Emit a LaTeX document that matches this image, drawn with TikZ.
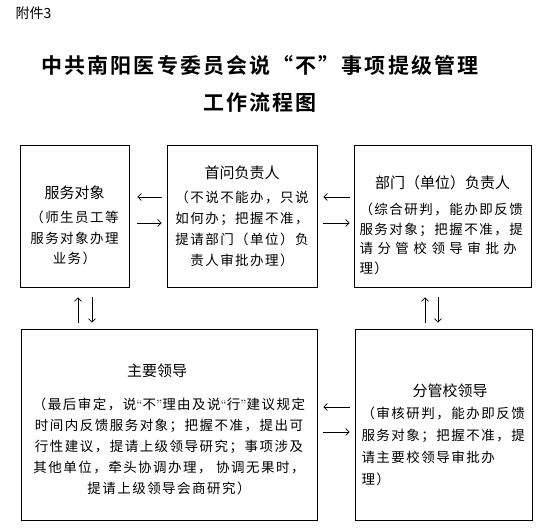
\documentclass[tikz,border=0pt]{standalone}
\usepackage{fontspec}
\usetikzlibrary{arrows.meta}
\newfontfamily\cjk{Noto Sans CJK SC}
\newfontfamily\cjkbody{Noto Sans CJK SC}[LetterSpace=11]
\newfontfamily\cjktitle{Noto Sans CJK SC Bold}[LetterSpace=10]
\newcommand\hd[1]{{\fontsize{15}{20}\selectfont\cjk #1}}

\begin{document}
\begin{tikzpicture}[x=1pt,y=1pt,
	box/.style={draw,line width=0.7pt,inner sep=0pt},
	arr/.style={-{Straight Barb[length=3.5pt,width=7pt]},line width=0.7pt}]
	\useasboundingbox (0,0) rectangle (554,529);
	\node[anchor=west,font=\fontsize{14}{14}\selectfont\cjk] (fj) at (12,516) {附件3};
	\node[align=center,font=\fontsize{21}{37}\selectfont\cjktitle] (title) at (260,445.5) {中共南阳医专委员会说“不”事项提级管理\\工作流程图};
	\node[box,minimum width=109pt,minimum height=142pt,align=center,font=\fontsize{13.5}{20.5}\selectfont\cjkbody] (fw) at (74.5,313) {\rule{0pt}{32pt}\hd{服务对象}\\[3.5pt] （师生员工等\\服务对象办理\\业务）};
	\node[box,minimum width=150pt,minimum height=142pt,align=center,font=\fontsize{13.5}{21}\selectfont\cjkbody] (sw) at (242,313) {\hd{首问负责人}\\[3pt] （不说不能办，只说\\如何办；把握不准，\\提请部门（单位）负\\责人审批办理）};
	\node[box,minimum width=177pt,minimum height=142pt,text width=166pt,align=left,font=\fontsize{13.5}{19.5}\selectfont\cjkbody] (bm) at (442.5,313) {\rule{0pt}{31pt}\makebox[\linewidth]{\hd{部门（单位）负责人}}\\[6.5pt]（综合研判，能办即反馈\\服务对象；把握不准，提\\\makebox[\linewidth][s]{请 分 管 校 领 导 审 批 办}\\理）};
	\node[box,minimum width=296pt,minimum height=191pt,align=center,font=\fontsize{13.5}{21}\selectfont\cjkbody] (zy) at (169,104.5) {\rule{0pt}{22pt}\hd{主要领导}\kern24pt\\[12pt] （最后审定，说{\normalfont“}不{\normalfont”}理由及说{\normalfont“}行{\normalfont”}建议规定\\时间内反馈服务对象；把握不准，提出可\\行性建议，提请上级领导研究；事项涉及\\其他单位，牵头协调办理， 协调无果时，\\提请上级领导会商研究）};
	\node[box,minimum width=177pt,minimum height=191pt,text width=164pt,align=left,font=\fontsize{13.5}{22}\selectfont\cjkbody] (fg) at (443.5,104.5) {\rule{0pt}{33pt}\makebox[\linewidth]{\kern13pt\hd{分管校领导}}\\（审核研判，能办即反馈\\服务对象；把握不准，提\\请主要校领导审批办\\理）};
	\draw[arr,shorten <=5pt,shorten >=8pt] ([yshift=19pt]sw.west) -- ([yshift=19pt]fw.east);
	\draw[arr,shorten <=8pt,shorten >=5pt] ([yshift=-7pt]fw.east) -- ([yshift=-7pt]sw.west);
	\draw[arr,shorten <=4pt,shorten >=6pt] ([yshift=19pt]bm.west) -- ([yshift=19pt]sw.east);
	\draw[arr,shorten <=6pt,shorten >=4pt] ([yshift=-7pt]sw.east) -- ([yshift=-7pt]bm.west);
	\draw[arr,shorten <=5pt,shorten >=6pt] ([yshift=17.5pt]fg.west) -- ([yshift=17.5pt]zy.east);
	\draw[arr,shorten <=6pt,shorten >=5pt] ([yshift=-7.5pt]zy.east) -- ([yshift=-7.5pt]fg.west);
	\coordinate (u1) at ([xshift=3.5pt]fw.south);
	\coordinate (d1) at ([xshift=17.5pt]fw.south);
	\coordinate (u2) at ([xshift=-17.5pt]bm.south);
	\coordinate (d2) at ([xshift=-4.5pt]bm.south);
	\draw[arr,shorten <=6pt,shorten >=10pt] (u1 |- zy.north) -- (u1);
	\draw[arr,shorten <=10pt,shorten >=6pt] (d1) -- (d1 |- zy.north);
	\draw[arr,shorten <=6pt,shorten >=10pt] (u2 |- fg.north) -- (u2);
	\draw[arr,shorten <=10pt,shorten >=6pt] (d2) -- (d2 |- fg.north);
\end{tikzpicture}
\end{document}
